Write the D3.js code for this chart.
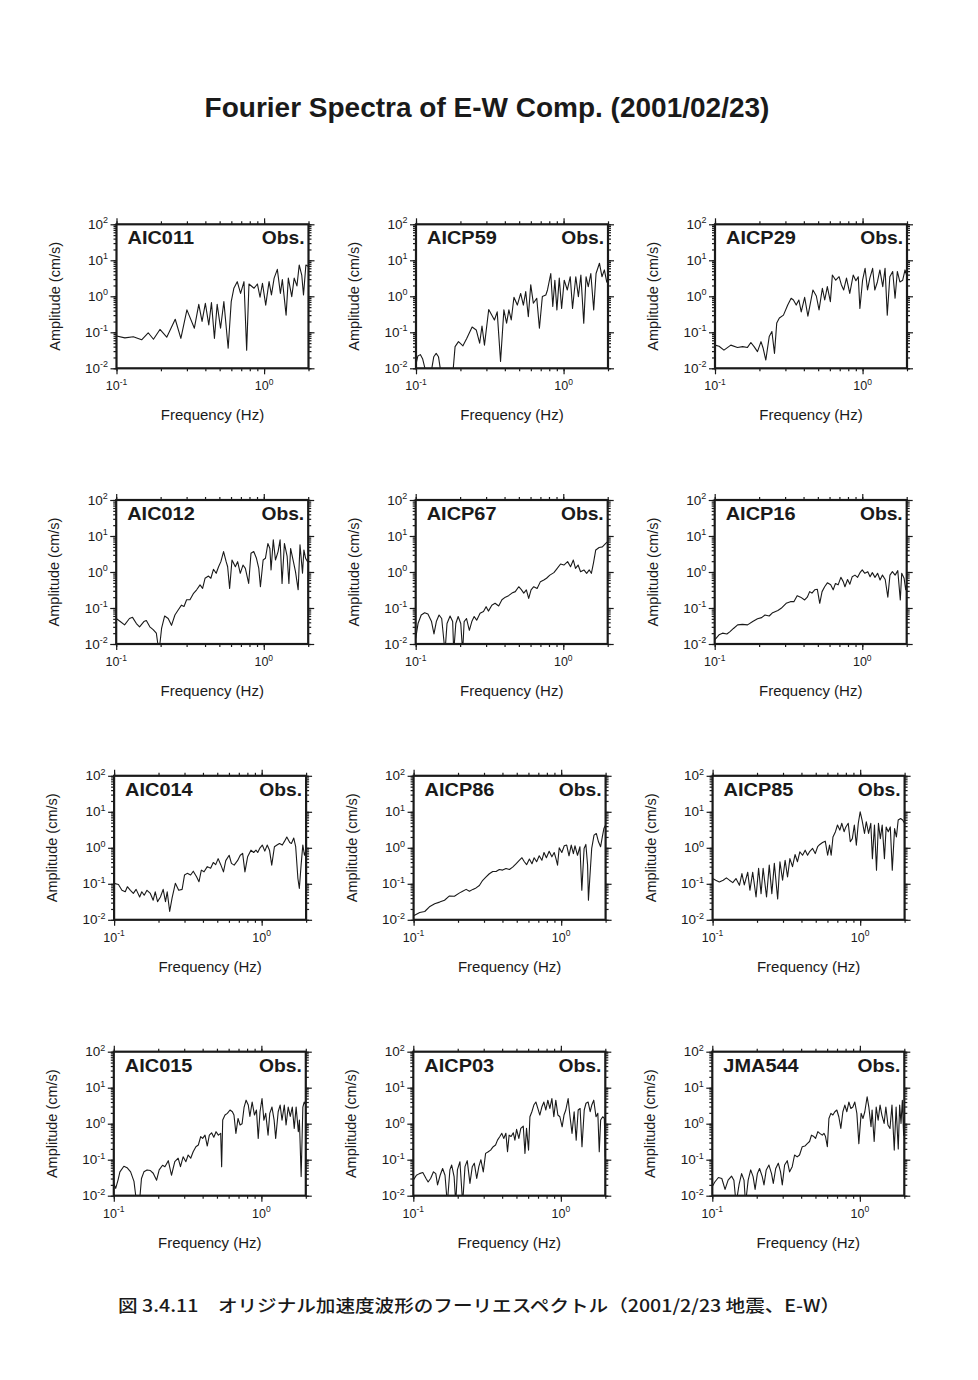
<!DOCTYPE html>
<html><head><meta charset="utf-8">
<script src="https://cdn.jsdelivr.net/npm/d3@7"></script>
<style>body{margin:0;background:#fff}svg{display:block}</style>
</head><body>
<svg id="c" width="978" height="1380"></svg>
<script>
// ---------- data ----------
const stations = ["AIC011","AICP59","AICP29","AIC012","AICP67","AICP16","AIC014","AICP86","AICP85","AIC015","AICP03","JMA544"];
const seriesLabel = "Obs.";
const chartTitle = "Fourier Spectra of E-W Comp. (2001/02/23)";
const xTitle = "Frequency (Hz)";
const yTitle = "Amplitude (cm/s)";
const caption = "図 3.4.11\u3000オリジナル加速度波形のフーリエスペクトル（2001/2/23 地震、E-W）";
const xTickExps = [-1, 0];
const yTickExps = [-2, -1, 0, 1, 2];

const AIC011_f = [0.100,0.114,0.130,0.148,0.164,0.178,0.197,0.219,0.250,0.273,0.300,0.337,0.361,0.380,0.400,0.422,0.440,0.461,0.481,0.507,0.534,0.571,0.599,0.624,0.658,0.693,0.731,0.762,0.790,0.855,0.901,0.939,0.975,1.026,1.081,1.122,1.17,1.23,1.29,1.33,1.41,1.46,1.54,1.60,1.67,1.73,1.80,1.85,1.92,2.0];
const AIC011_a = [0.079,0.070,0.075,0.062,0.097,0.064,0.12,0.073,0.23,0.068,0.42,0.13,0.60,0.20,0.64,0.16,0.67,0.068,0.60,0.13,0.71,0.036,0.71,1.67,2.55,1.2,2.55,0.032,2.2,1.67,2.2,0.94,2.3,0.57,2.55,1.09,3.2,5.6,1.2,2.9,0.30,3.2,0.98,3.2,1.94,7.4,3.9,1.09,7.4,6.7];

const AICP59_f = [0.100,0.103,0.107,0.111,0.115,0.117,0.126,0.128,0.132,0.137,0.142,0.146,0.148,0.177,0.184,0.194,0.208,0.221,0.240,0.256,0.270,0.280,0.291,0.311,0.340,0.355,0.374,0.394,0.411,0.426,0.442,0.461,0.486,0.512,0.534,0.554,0.577,0.599,0.624,0.658,0.686,0.718,0.758,0.778,0.819,0.845,0.873,0.901,0.935,0.970,1.01,1.06,1.11,1.15,1.21,1.26,1.31,1.37,1.42,1.47,1.53,1.60,1.66,1.75,1.82,1.89,1.96,2.0];
const AICP59_a = [0.013,0.022,0.024,0.018,0.010,0.006,0.006,0.010,0.021,0.026,0.021,0.010,0.006,0.006,0.04,0.055,0.042,0.068,0.14,0.116,0.05,0.15,0.044,0.43,0.22,0.37,0.0154,0.42,0.18,0.42,0.22,0.94,0.57,1.2,0.57,1.35,0.27,2.1,0.64,0.88,0.13,0.98,1.09,1.5,4.3,0.52,2.8,0.42,3.2,0.46,2.8,1.5,3.5,0.46,3.5,0.98,3.9,0.18,3.5,1.86,4.3,0.42,4.3,8.3,3.5,5.4,2.5,2.3];

const AICP29_f = [0.100,0.1065,0.115,0.128,0.142,0.154,0.166,0.175,0.184,0.194,0.205,0.212,0.221,0.233,0.243,0.253,0.262,0.273,0.291,0.311,0.328,0.340,0.355,0.370,0.384,0.405,0.426,0.461,0.486,0.507,0.534,0.554,0.577,0.605,0.624,0.658,0.693,0.718,0.745,0.778,0.819,0.864,0.901,0.935,0.959,1.0,1.04,1.08,1.12,1.17,1.21,1.26,1.31,1.37,1.42,1.47,1.53,1.60,1.66,1.72,1.79,1.87,1.94,2.0];
const AICP29_a = [0.044,0.041,0.032,0.044,0.038,0.040,0.038,0.052,0.040,0.029,0.055,0.036,0.017,0.076,0.105,0.026,0.18,0.25,0.30,0.57,0.88,0.79,0.57,0.79,0.37,0.94,0.28,1.5,1.02,0.42,1.67,0.79,1.86,0.71,3.9,2.8,3.5,2.1,1.5,3.2,1.2,3.9,2.7,3.5,0.46,2.8,6.0,1.5,3.2,6.0,1.5,2.5,5.4,1.86,6.0,0.30,3.5,4.9,0.88,4.9,2.5,2.8,5.4,3.5];

const AIC012_f = [0.100,0.1065,0.114,0.123,0.129,0.137,0.144,0.154,0.160,0.169,0.178,0.187,0.195,0.203,0.213,0.225,0.237,0.250,0.263,0.277,0.288,0.300,0.316,0.333,0.351,0.370,0.385,0.400,0.422,0.438,0.456,0.476,0.494,0.512,0.534,0.556,0.569,0.587,0.609,0.642,0.665,0.693,0.723,0.750,0.790,0.819,0.855,0.892,0.925,0.949,0.990,1.026,1.066,1.10,1.12,1.16,1.20,1.25,1.29,1.33,1.38,1.44,1.48,1.52,1.58,1.64,1.71,1.76,1.83,1.87,1.92,1.98,2.0];
const AIC012_a = [0.051,0.042,0.034,0.051,0.055,0.037,0.030,0.042,0.045,0.030,0.025,0.020,0.006,0.027,0.060,0.051,0.033,0.064,0.088,0.12,0.11,0.17,0.17,0.25,0.32,0.44,0.35,0.67,0.77,0.67,1.19,0.92,1.4,1.94,3.7,1.94,1.4,0.35,2.15,1.4,1.94,0.92,1.56,1.26,0.48,3.3,3.7,2.4,1.26,0.39,2.15,2.4,6.2,4.5,1.14,7.8,2.15,3.7,7.8,0.48,6.2,2.7,0.48,4.5,2.15,1.02,0.32,5.7,0.92,4.1,2.4,1.94,2.0];

const AICP67_f = [0.100,0.1037,0.109,0.115,0.121,0.128,0.133,0.138,0.144,0.150,0.158,0.163,0.171,0.178,0.181,0.187,0.194,0.202,0.208,0.213,0.221,0.231,0.240,0.249,0.259,0.273,0.288,0.300,0.311,0.328,0.345,0.365,0.384,0.405,0.426,0.449,0.473,0.499,0.518,0.540,0.562,0.583,0.605,0.631,0.665,0.700,0.738,0.770,0.811,0.864,0.910,0.959,1.01,1.07,1.12,1.17,1.21,1.26,1.31,1.38,1.44,1.50,1.55,1.60,1.66,1.75,1.84,1.94,2.0];
const AICP67_a = [0.0143,0.037,0.064,0.074,0.068,0.042,0.019,0.042,0.064,0.051,0.006,0.037,0.06,0.042,0.006,0.037,0.058,0.037,0.006,0.042,0.051,0.024,0.042,0.058,0.046,0.071,0.08,0.109,0.082,0.12,0.135,0.114,0.17,0.2,0.22,0.26,0.285,0.39,0.33,0.26,0.32,0.185,0.32,0.39,0.35,0.54,0.6,0.67,0.82,0.96,1.26,1.67,1.56,1.94,1.4,2.15,1.26,1.56,1.02,1.14,0.92,1.14,0.92,1.74,4.1,4.8,5.0,6.2,7.0];

const AICP16_f = [0.100,0.107,0.113,0.121,0.127,0.134,0.143,0.154,0.167,0.181,0.195,0.208,0.219,0.234,0.247,0.268,0.282,0.305,0.326,0.344,0.362,0.382,0.407,0.424,0.440,0.456,0.476,0.496,0.515,0.534,0.556,0.580,0.611,0.635,0.658,0.686,0.716,0.743,0.763,0.795,0.824,0.855,0.892,0.930,0.965,1.0,1.04,1.09,1.13,1.17,1.22,1.27,1.32,1.37,1.43,1.49,1.54,1.60,1.67,1.74,1.81,1.85,1.92,1.97,2.0];
const AICP16_a = [0.013,0.018,0.020,0.019,0.022,0.027,0.034,0.035,0.034,0.042,0.05,0.054,0.064,0.06,0.074,0.085,0.098,0.135,0.15,0.15,0.22,0.2,0.167,0.2,0.285,0.26,0.32,0.33,0.135,0.285,0.39,0.5,0.44,0.32,0.48,0.44,0.71,0.54,0.39,0.62,0.46,0.74,0.82,0.71,0.96,1.14,0.92,1.02,0.74,0.96,0.71,0.92,0.6,0.82,0.62,0.2,0.82,1.02,0.82,1.09,0.167,0.92,0.67,0.32,0.48];

const AIC014_f = [0.100,0.107,0.113,0.119,0.123,0.129,0.135,0.141,0.149,0.154,0.160,0.167,0.176,0.184,0.190,0.197,0.206,0.215,0.223,0.229,0.238,0.247,0.260,0.274,0.289,0.300,0.313,0.330,0.344,0.362,0.376,0.390,0.407,0.428,0.451,0.470,0.488,0.507,0.528,0.551,0.571,0.602,0.624,0.651,0.686,0.716,0.743,0.770,0.803,0.846,0.882,0.915,0.94,0.969,1.01,1.05,1.09,1.13,1.17,1.22,1.27,1.32,1.38,1.43,1.48,1.55,1.59,1.65,1.70,1.76,1.80,1.85,1.90,1.95,2.0];
const AIC014_a = [0.103,0.096,0.066,0.060,0.083,0.066,0.054,0.070,0.043,0.060,0.048,0.066,0.054,0.035,0.060,0.032,0.043,0.070,0.032,0.060,0.017,0.040,0.103,0.066,0.070,0.175,0.195,0.175,0.224,0.157,0.114,0.24,0.215,0.30,0.27,0.39,0.34,0.50,0.34,0.215,0.44,0.62,0.37,0.33,0.44,0.62,0.70,0.215,0.56,0.86,0.74,0.86,0.74,0.96,1.19,0.81,1.19,0.86,0.33,1.07,1.19,1.32,1.19,1.53,2.0,1.40,1.32,1.87,1.07,0.14,0.074,0.33,1.2,0.62,0.86];

const AICP86_f = [0.100,0.110,0.119,0.128,0.139,0.150,0.162,0.175,0.189,0.205,0.215,0.227,0.239,0.252,0.265,0.279,0.294,0.310,0.326,0.344,0.362,0.381,0.401,0.423,0.446,0.469,0.494,0.520,0.542,0.563,0.583,0.609,0.634,0.656,0.682,0.710,0.740,0.765,0.794,0.829,0.865,0.897,0.922,0.945,0.970,1.01,1.05,1.09,1.13,1.17,1.21,1.24,1.29,1.34,1.38,1.43,1.47,1.51,1.53,1.56,1.61,1.67,1.73,1.79,1.85,1.90,1.95,2.0];
const AICP86_a = [0.013,0.016,0.017,0.023,0.028,0.031,0.035,0.046,0.045,0.056,0.062,0.07,0.062,0.07,0.077,0.09,0.125,0.155,0.19,0.22,0.22,0.25,0.24,0.265,0.25,0.29,0.36,0.45,0.53,0.41,0.34,0.49,0.36,0.53,0.41,0.6,0.45,0.74,0.53,0.8,0.56,0.74,0.5,0.33,1.0,0.74,1.14,1.19,0.6,1.19,0.69,1.14,0.62,1.07,0.066,0.96,1.24,0.33,0.035,0.125,0.96,2.25,2.5,1.47,1.07,2.0,3.5,4.3];

const AICP85_f = [0.100,0.105,0.111,0.118,0.124,0.130,0.137,0.144,0.152,0.158,0.164,0.173,0.179,0.187,0.197,0.205,0.213,0.220,0.232,0.242,0.252,0.262,0.276,0.286,0.298,0.310,0.322,0.334,0.348,0.362,0.376,0.390,0.407,0.424,0.440,0.456,0.476,0.496,0.515,0.533,0.556,0.580,0.602,0.620,0.636,0.654,0.680,0.702,0.728,0.751,0.778,0.800,0.830,0.857,0.885,0.913,0.942,0.971,1.00,1.03,1.07,1.10,1.14,1.18,1.21,1.25,1.29,1.33,1.37,1.41,1.46,1.50,1.55,1.60,1.65,1.71,1.76,1.81,1.88,1.94,2.0];
const AICP85_a = [0.14,0.126,0.113,0.126,0.146,0.126,0.108,0.14,0.091,0.192,0.093,0.21,0.066,0.21,0.043,0.27,0.053,0.27,0.043,0.33,0.053,0.37,0.038,0.41,0.126,0.45,0.155,0.5,0.3,0.65,0.41,0.77,0.62,0.86,0.62,0.8,0.96,0.69,1.07,1.24,1.4,1.53,0.62,1.19,0.62,2.0,2.8,4.3,3.1,4.8,2.8,3.8,4.8,1.47,1.8,4.3,1.19,4.8,10.0,5.9,2.5,5.3,2.5,4.8,0.5,4.3,0.24,4.8,1.8,4.3,0.5,3.8,2.8,3.8,0.24,3.4,2.0,5.9,6.5,5.9,4.8];

const AIC015_f = [0.100,0.103,0.107,0.110,0.117,0.123,0.130,0.137,0.143,0.149,0.154,0.160,0.168,0.177,0.185,0.195,0.203,0.214,0.222,0.234,0.246,0.259,0.273,0.283,0.295,0.308,0.319,0.332,0.345,0.360,0.374,0.388,0.400,0.415,0.430,0.444,0.460,0.476,0.493,0.511,0.530,0.538,0.547,0.567,0.588,0.613,0.636,0.652,0.672,0.695,0.717,0.740,0.764,0.788,0.815,0.836,0.866,0.898,0.926,0.952,0.979,1.01,1.04,1.07,1.11,1.14,1.18,1.22,1.25,1.30,1.34,1.38,1.43,1.47,1.52,1.57,1.62,1.67,1.72,1.78,1.81,1.86,1.91,1.95,2.0];
const AIC015_a = [0.022,0.016,0.028,0.046,0.066,0.06,0.046,0.025,0.006,0.006,0.03,0.046,0.052,0.05,0.042,0.027,0.052,0.07,0.064,0.094,0.037,0.088,0.11,0.064,0.12,0.088,0.135,0.11,0.167,0.23,0.256,0.44,0.39,0.48,0.24,0.48,0.56,0.42,0.6,0.48,0.54,0.064,1.26,1.74,1.94,2.4,2.15,1.74,0.54,1.4,0.92,1.0,2.9,4.5,3.3,1.6,4.0,1.74,2.4,0.39,2.15,5.0,1.26,1.94,0.48,1.94,2.9,1.26,0.39,2.15,3.3,1.26,3.3,0.92,2.9,1.6,2.9,0.74,2.9,0.6,1.26,0.034,2.9,4.0,3.3];

const AICP03_f = [0.100,0.105,0.110,0.116,0.122,0.126,0.131,0.137,0.142,0.146,0.152,0.158,0.164,0.170,0.177,0.182,0.189,0.194,0.199,0.207,0.216,0.224,0.232,0.242,0.251,0.259,0.269,0.278,0.287,0.298,0.309,0.322,0.334,0.348,0.361,0.372,0.386,0.398,0.410,0.424,0.435,0.446,0.460,0.476,0.488,0.501,0.519,0.535,0.556,0.571,0.585,0.604,0.617,0.636,0.656,0.677,0.698,0.720,0.743,0.767,0.791,0.816,0.842,0.869,0.896,0.924,0.954,0.984,1.02,1.05,1.08,1.12,1.15,1.19,1.23,1.27,1.31,1.35,1.39,1.44,1.48,1.53,1.58,1.62,1.67,1.73,1.78,1.82,1.86,1.92,1.97,2.0];
const AICP03_a = [0.027,0.037,0.041,0.044,0.03,0.024,0.03,0.046,0.041,0.02,0.037,0.057,0.037,0.006,0.052,0.071,0.034,0.006,0.052,0.088,0.006,0.064,0.094,0.022,0.064,0.08,0.03,0.064,0.1,0.046,0.15,0.167,0.185,0.23,0.256,0.35,0.44,0.54,0.39,0.54,0.167,0.48,0.44,0.56,0.35,0.7,0.39,0.74,0.86,0.15,0.74,0.185,1.56,2.15,3.3,4.0,2.65,1.74,2.9,4.0,2.4,4.5,2.65,5.0,1.56,4.5,1.74,1.56,0.82,1.74,2.4,5.0,1.74,0.54,2.15,0.35,2.4,2.65,0.23,2.4,3.7,4.0,2.15,3.3,4.5,1.56,1.94,0.167,1.26,1.56,1.4,0.12];

const JMA544_f = [0.100,0.104,0.110,0.116,0.122,0.128,0.135,0.140,0.145,0.152,0.158,0.164,0.168,0.175,0.182,0.189,0.195,0.202,0.209,0.218,0.224,0.232,0.242,0.252,0.259,0.269,0.280,0.290,0.298,0.309,0.322,0.334,0.348,0.361,0.376,0.390,0.407,0.424,0.440,0.456,0.470,0.488,0.501,0.519,0.535,0.556,0.571,0.585,0.602,0.617,0.636,0.656,0.677,0.698,0.720,0.743,0.767,0.791,0.816,0.842,0.869,0.896,0.924,0.954,0.984,1.02,1.05,1.08,1.12,1.15,1.19,1.21,1.25,1.29,1.33,1.37,1.41,1.46,1.50,1.55,1.60,1.65,1.71,1.76,1.82,1.86,1.90,1.94,1.98,2.0];
const JMA544_a = [0.018,0.024,0.032,0.03,0.015,0.027,0.035,0.027,0.006,0.021,0.041,0.027,0.006,0.027,0.052,0.034,0.015,0.041,0.057,0.034,0.02,0.052,0.071,0.041,0.022,0.057,0.08,0.046,0.02,0.071,0.094,0.046,0.064,0.135,0.12,0.135,0.23,0.24,0.28,0.32,0.48,0.44,0.39,0.6,0.54,0.48,0.54,0.44,0.23,1.4,1.94,1.74,2.15,2.4,1.56,0.74,2.15,3.3,2.15,4.0,2.65,2.9,4.0,1.94,0.28,1.94,1.4,2.15,5.6,2.9,0.82,2.4,0.32,2.9,1.26,3.3,1.74,1.02,2.9,0.92,0.74,3.3,0.185,2.9,0.2,3.3,1.02,4.5,0.48,1.56];

const seriesByStation = {
  AIC011:[AIC011_f,AIC011_a], AICP59:[AICP59_f,AICP59_a], AICP29:[AICP29_f,AICP29_a],
  AIC012:[AIC012_f,AIC012_a], AICP67:[AICP67_f,AICP67_a], AICP16:[AICP16_f,AICP16_a],
  AIC014:[AIC014_f,AIC014_a], AICP86:[AICP86_f,AICP86_a], AICP85:[AICP85_f,AICP85_a],
  AIC015:[AIC015_f,AIC015_a], AICP03:[AICP03_f,AICP03_a], JMA544:[JMA544_f,JMA544_a]
};

// ---------- layout ----------
const svg = d3.select("#c");
const FONT = "'Liberation Sans', Arial, Helvetica, sans-serif";
const INK = "#1a1a1a";
const boxW = 192, boxH = 144;
const colLeft = [116.5, 416, 715];
const rowTop = [224.3, 500, 775.8, 1051.7];
const rowShift = [0, 0.3, 2.4, 2.7];

svg.append("text").attr("x", 487).attr("y", 117)
  .attr("text-anchor","middle").attr("font-family",FONT).attr("font-weight","bold")
  .attr("font-size",28).attr("fill",INK).text(chartTitle);

svg.append("text").attr("x", 118).attr("y", 1312)
  .attr("font-family","'Noto Sans CJK JP', sans-serif").attr("font-weight",500)
  .attr("font-size",17).attr("fill",INK)
  .attr("textLength",722).attr("lengthAdjust","spacingAndGlyphs")
  .text(caption);

const minorY = [];
for (let e = -2; e < 2; e++) for (let m = 1; m < 10; m++) minorY.push(m * Math.pow(10, e));
minorY.push(100);
const minorX = [];
for (let m = 1; m < 10; m++) minorX.push(m * 0.1);
minorX.push(1, 2);

stations.forEach((name, i) => {
  const r = Math.floor(i / 3), c = i % 3;
  const left = colLeft[c] - rowShift[r], top = rowTop[r];
  const g = svg.append("g");
  const x = d3.scaleLog().domain([0.1, 2]).range([left, left + boxW]);
  const y = d3.scaleLog().domain([0.01, 100]).range([top + boxH, top]);

  const clipId = "clip" + i;
  g.append("clipPath").attr("id", clipId).append("rect")
    .attr("x", left).attr("y", top).attr("width", boxW).attr("height", boxH);

  const [fs, as] = seriesByStation[name];
  const pts = d3.zip(fs, as);
  g.append("path").datum(pts).attr("clip-path", `url(#${clipId})`)
    .attr("fill","none").attr("stroke",INK).attr("stroke-width",1.1)
    .attr("stroke-linejoin","round")
    .attr("d", d3.line().x(d => x(d[0])).y(d => y(d[1])));

  const axStyle = sel => { sel.select(".domain").remove(); sel.selectAll("line").attr("stroke",INK).attr("stroke-width",1.2); };
  // minor ticks
  g.append("g").attr("transform",`translate(${left},0)`).call(d3.axisLeft(y).tickValues(minorY).tickSize(3).tickFormat("")).call(axStyle);
  g.append("g").attr("transform",`translate(${left+boxW},0)`).call(d3.axisRight(y).tickValues(minorY).tickSize(3).tickFormat("")).call(axStyle);
  g.append("g").attr("transform",`translate(0,${top})`).call(d3.axisTop(x).tickValues(minorX).tickSize(3).tickFormat("")).call(axStyle);
  g.append("g").attr("transform",`translate(0,${top+boxH})`).call(d3.axisBottom(x).tickValues(minorX).tickSize(3).tickFormat("")).call(axStyle);
  // major ticks
  const majY = yTickExps.map(e => Math.pow(10, e));
  const majX = xTickExps.map(e => Math.pow(10, e));
  g.append("g").attr("transform",`translate(${left},0)`).call(d3.axisLeft(y).tickValues(majY).tickSize(6).tickFormat("")).call(axStyle);
  g.append("g").attr("transform",`translate(${left+boxW},0)`).call(d3.axisRight(y).tickValues(majY).tickSize(6).tickFormat("")).call(axStyle);
  g.append("g").attr("transform",`translate(0,${top})`).call(d3.axisTop(x).tickValues(majX).tickSize(6).tickFormat("")).call(axStyle);
  g.append("g").attr("transform",`translate(0,${top+boxH})`).call(d3.axisBottom(x).tickValues(majX).tickSize(6).tickFormat("")).call(axStyle);

  // frame
  g.append("rect").attr("x", left).attr("y", top).attr("width", boxW).attr("height", boxH)
    .attr("fill","none").attr("stroke",INK).attr("stroke-width",2.2);

  // y tick labels
  yTickExps.forEach(e => {
    const t = g.append("text").attr("x", left - 8.5).attr("y", y(Math.pow(10, e)) + 4.5)
      .attr("text-anchor","end").attr("font-family",FONT).attr("font-size",13.5).attr("fill",INK);
    t.append("tspan").text("10");
    t.append("tspan").attr("dy",-5.5).attr("font-size",9).text(String(e));
  });
  // x tick labels
  xTickExps.forEach(e => {
    const t = g.append("text").attr("x", x(Math.pow(10, e))).attr("y", top + boxH + 22)
      .attr("text-anchor","middle").attr("font-family",FONT).attr("font-size",12.5).attr("fill",INK);
    t.append("tspan").text("10");
    t.append("tspan").attr("dy",-5.5).attr("font-size",8.5).text(String(e));
  });
  // axis titles
  g.append("text").attr("x", left + boxW/2).attr("y", top + boxH + 52)
    .attr("text-anchor","middle").attr("font-family",FONT).attr("font-size",15).attr("fill",INK).text(xTitle);
  g.append("text").attr("transform",`translate(${left - 57},${top + boxH/2}) rotate(-90)`)
    .attr("text-anchor","middle").attr("font-family",FONT).attr("font-size",14.5).attr("fill",INK).text(yTitle);
  // station and series labels (slightly wide bold face)
  g.append("text").attr("transform",`translate(${left + 11},${top + 20}) scale(1.14,1)`)
    .attr("font-family",FONT).attr("font-weight","bold").attr("font-size",17.5).attr("fill",INK).text(name);
  g.append("text").attr("transform",`translate(${left + boxW - 4},${top + 20}) scale(1.1,1)`).attr("text-anchor","end")
    .attr("font-family",FONT).attr("font-weight","bold").attr("font-size",17.5).attr("fill",INK).text(seriesLabel);
});
</script>
</body></html>
